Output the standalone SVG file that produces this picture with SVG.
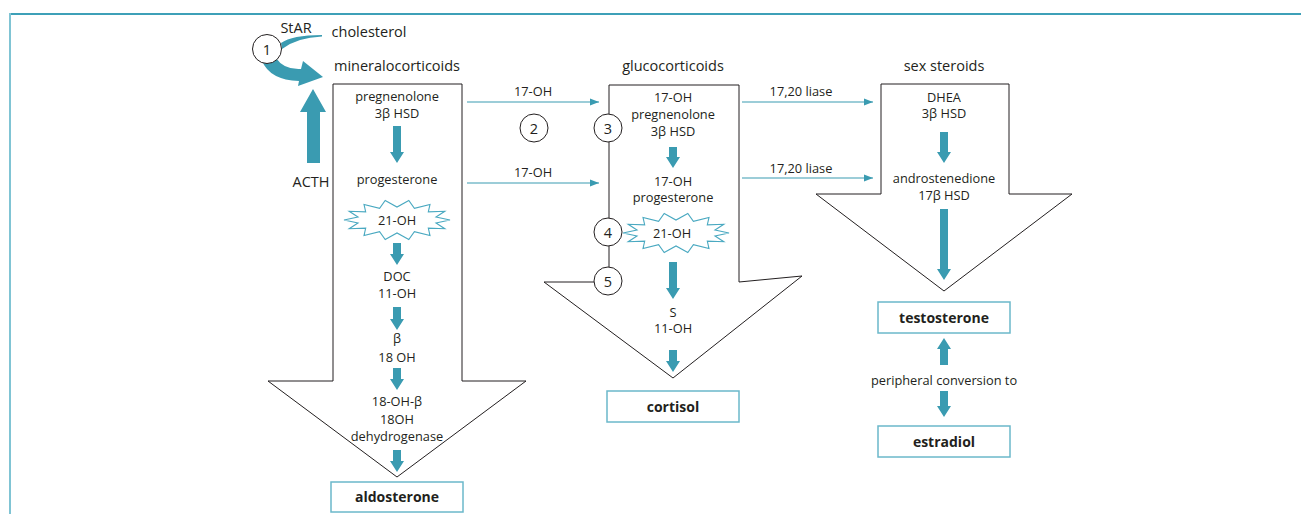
<svg xmlns="http://www.w3.org/2000/svg" width="1301" height="514" viewBox="0 0 1301 514">
<style>
text{font-family:"Open Sans","Noto Sans","Liberation Sans",sans-serif;fill:#231f20;text-anchor:middle}
.h{font-size:14.5px}
.b{font-size:12.8px}
.bx{font-size:14px;font-weight:bold}
.n{font-size:14.5px}
.big{fill:#fff;stroke:#231f20;stroke-width:1}
.blk{fill:#3a9bb1}
.box{fill:#fff;stroke:#6bb8ca;stroke-width:1.5}
.cir{fill:#fff;stroke:#231f20;stroke-width:1}
.thin{stroke:#3a9bb1;stroke-width:1.2;fill:none;marker-end:url(#ah)}
.star{fill:#fff;stroke:#4aa9c1;stroke-width:1.1}
</style>
<defs>
<marker id="ah" markerUnits="userSpaceOnUse" markerWidth="10" markerHeight="8" refX="9" refY="4" orient="auto"><path d="M0,0.5 L9,4 L0,7.5 Z" fill="#3a9bb1"/></marker>
<polygon id="burst" points="53,0 39,2.9 47.8,8.7 31.3,8.1 33,15.6 17.4,11.7 11.8,19.5 0,13 -11.8,19.5 -17.4,11.7 -33,15.6 -31.3,8.1 -47.8,8.7 -39,2.9 -53,0 -39,-2.9 -47.8,-8.7 -31.3,-8.1 -33,-15.6 -17.4,-11.7 -11.8,-19.5 0,-13 11.8,-19.5 17.4,-11.7 33,-15.6 31.3,-8.1 47.8,-8.7 39,-2.9"/>
</defs>

<g id="frame">
<line x1="10" y1="14" x2="1301" y2="14" stroke="#3da0b8" stroke-width="2"/>
<line x1="10" y1="13" x2="10" y2="514" stroke="#80c4d4" stroke-width="2"/>
</g>

<g id="mineralocorticoids">
<text class="h" x="397" y="71">mineralocorticoids</text>
<polygon class="big" points="333,84 462,84 462,381 526,381 397,477 268,381 333,381"/>
<text class="b" x="397" y="101">pregnenolone</text>
<text class="b" x="397" y="118">3β HSD</text>
<polygon class="blk" points="393,126 401,126 401,152 404,152 397,163 390,152 393,152"/>
<text class="b" x="397" y="184">progesterone</text>
<use href="#burst" class="star" x="397" y="220"/>
<text class="b" x="397" y="225">21-OH</text>
<polygon class="blk" points="393,243 401,243 401,254 404,254 397,265 390,254 393,254"/>
<text class="b" x="397" y="281">DOC</text>
<text class="b" x="397" y="298">11-OH</text>
<polygon class="blk" points="393,307 401,307 401,319 404,319 397,330 390,319 393,319"/>
<text class="b" x="397" y="343">β</text>
<text class="b" x="397" y="362">18 OH</text>
<polygon class="blk" points="393,368 401,368 401,379 404,379 397,390 390,379 393,379"/>
<text class="b" x="397" y="406">18-OH-β</text>
<text class="b" x="397" y="424">18OH</text>
<text class="b" x="397" y="441">dehydrogenase</text>
<polygon class="blk" points="393,450 401,450 401,461 404,461 397,472 390,461 393,461"/>
</g>
<g id="aldosterone">
<rect class="box" x="331" y="482" width="132" height="30"/>
<text class="bx" x="397" y="502">aldosterone</text>
</g>

<g id="glucocorticoids">
<text class="h" x="673" y="71">glucocorticoids</text>
<polygon class="big" points="609,85 739,85 739,282 802,276 673,378 544,282 609,282"/>
<text class="b" x="673" y="102">17-OH</text>
<text class="b" x="673" y="119">pregnenolone</text>
<text class="b" x="673" y="136">3β HSD</text>
<polygon class="blk" points="669,147 677,147 677,157 680,157 673,168 666,157 669,157"/>
<text class="b" x="673" y="186">17-OH</text>
<text class="b" x="673" y="202">progesterone</text>
<use href="#burst" class="star" x="676" y="233"/>
<text class="b" x="672" y="238">21-OH</text>
<polygon class="blk" points="669,262 677,262 677,288 680,288 673,299 666,288 669,288"/>
<text class="b" x="673" y="317">S</text>
<text class="b" x="673" y="333">11-OH</text>
<polygon class="blk" points="669,350 677,350 677,361 680,361 673,372 666,361 669,361"/>
</g>
<g id="cortisol">
<rect class="box" x="607" y="391" width="132" height="31"/>
<text class="bx" x="673" y="412">cortisol</text>
</g>

<g id="sex-steroids">
<text class="h" x="944" y="71">sex steroids</text>
<polygon class="big" points="881,84 1009,84 1009,194 1072,194 944,291 816,194 881,194"/>
<text class="b" x="944" y="102">DHEA</text>
<text class="b" x="944" y="118">3β HSD</text>
<polygon class="blk" points="940,132 948,132 948,152 951,152 944,163 937,152 940,152"/>
<text class="b" x="944" y="183">androstenedione</text>
<text class="b" x="944" y="200">17β HSD</text>
<polygon class="blk" points="940,209 948,209 948,269 951,269 944,280 937,269 940,269"/>
</g>
<g id="testosterone">
<rect class="box" x="878" y="302" width="132" height="31"/>
<text class="bx" x="944" y="323">testosterone</text>
</g>
<g id="peripheral">
<polygon class="blk" points="940,365 948,365 948,349 951,349 944,338 937,349 940,349"/>
<text class="b" x="944" y="385">peripheral conversion to</text>
<polygon class="blk" points="940,391 948,391 948,406 951,406 944,417 937,406 940,406"/>
</g>
<g id="estradiol">
<rect class="box" x="878" y="426" width="132" height="31"/>
<text class="bx" x="944" y="447">estradiol</text>
</g>

<g id="cholesterol">
<text class="h" x="369" y="37">cholesterol</text>
<text class="h" x="296" y="33">StAR</text>
</g>
<g id="acth">
<polygon class="blk" points="307,163 320,163 320,112 326,112 313,89 300,112 307,112"/>
<text class="h" x="311" y="187">ACTH</text>
</g>

<g id="connectors">
<path class="blk" d="M281,43 Q292,35 322,35 L322,36.5 Q297,37.5 282,49 Z"/>
<path class="blk" d="M262,61 Q270,80 299,81 L298,86 L323,77 L303,61 L301,69 Q284,70 276,58 Z"/>
<line class="thin" x1="467" y1="102" x2="599" y2="102"/>
<text class="b" x="533" y="96">17-OH</text>
<line class="thin" x1="467" y1="183" x2="599" y2="183"/>
<text class="b" x="533" y="177">17-OH</text>
<line class="thin" x1="742" y1="102" x2="873" y2="102"/>
<text class="b" x="801" y="96">17,20 liase</text>
<line class="thin" x1="742" y1="178" x2="873" y2="178"/>
<text class="b" x="801" y="173">17,20 liase</text>
</g>

<g id="step1"><circle class="cir" cx="267" cy="49" r="14.5"/><text class="n" x="267" y="54.5">1</text></g>
<g id="step2"><circle class="cir" cx="534" cy="128" r="14"/><text class="n" x="534" y="133.5">2</text></g>
<g id="step3"><circle class="cir" cx="608" cy="128" r="14"/><text class="n" x="608" y="133.5">3</text></g>
<g id="step4"><circle class="cir" cx="608" cy="232" r="14"/><text class="n" x="608" y="237.5">4</text></g>
<g id="step5"><circle class="cir" cx="608" cy="281" r="14"/><text class="n" x="608" y="286.5">5</text></g>
</svg>
